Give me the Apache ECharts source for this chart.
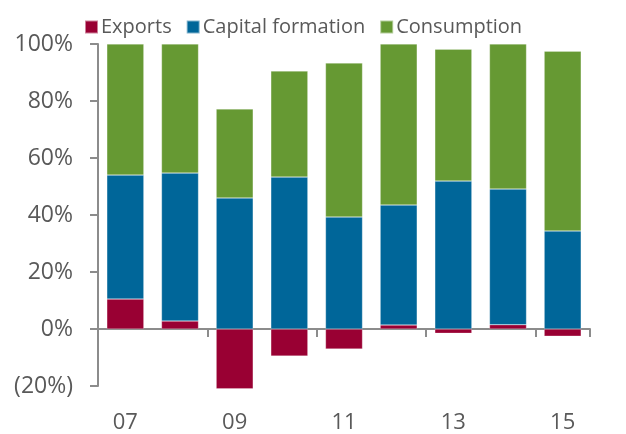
<!DOCTYPE html>
<html><head><meta charset="utf-8">
<script src="https://cdn.jsdelivr.net/npm/echarts@6/dist/echarts.min.js"></script>
<style>html,body{margin:0;padding:0;background:#fff}#c{width:626px;height:434px}</style>
</head><body><div id="c"></div>
<script>
const categories = ['07','08','09','10','11','12','13','14','15'];
const exportsData = [10.5, 2.8, -21.0, -9.5, -7.0, 1.4, -1.5, 1.5, -2.5];
const capitalData = [43.5, 51.9, 46.0, 53.3, 39.3, 42.1, 51.9, 47.6, 34.4];
const consumptionData = [46.0, 45.3, 31.2, 37.2, 54.0, 56.5, 46.3, 50.9, 63.1];
const yMin = -20, yMax = 100, yStep = 20;

const font = 'Open Sans';
const textColor = '#595959';
const axisColor = '#8c8c8c';
const chart = echarts.init(document.getElementById('c'), null, {renderer:'canvas'});
const mk = (name, data, color) => ({
  name, type:'bar', stack:'total', data,
  barWidth: 37, clip:false,
  itemStyle:{color, borderColor:'rgba(255,255,255,0.5)', borderWidth:0.5},
  emphasis:{disabled:true}
});
chart.setOption({
  animation:false,
  textStyle:{fontFamily:font},
  legend:{
    left:79, top:12, itemWidth:13, itemHeight:13, itemGap:14,
    icon:'rect',
    textStyle:{fontFamily:font, fontSize:20, color:textColor, padding:[0,0,0,-2]},
    data:['Exports','Capital formation','Consumption']
  },
  grid:{left:98, right:36, top:44, bottom:48, containLabel:false, outerBoundsMode:'none'},
  xAxis:{
    type:'category', data:categories,
    axisLine:{lineStyle:{color:axisColor, width:2}},
    axisTick:{show:true, interval:1, length:8, lineStyle:{color:axisColor, width:2}},
    axisLabel:{interval:1, margin:26, fontFamily:font, fontSize:22, color:textColor}
  },
  yAxis:{
    type:'value', min:yMin, max:yMax, interval:yStep,
    axisLine:{show:true, lineStyle:{color:axisColor, width:2}},
    axisTick:{show:true, length:8, lineStyle:{color:axisColor, width:2}},
    splitLine:{show:false},
    axisLabel:{margin:25, fontFamily:font, fontSize:23, color:textColor,
      formatter:v => v<0 ? '('+Math.abs(v)+'%)' : v+'%'}
  },
  series:[
    mk('Exports', exportsData, '#990033'),
    mk('Capital formation', capitalData, '#006699'),
    mk('Consumption', consumptionData, '#669933')
  ]
});
</script></body></html>
